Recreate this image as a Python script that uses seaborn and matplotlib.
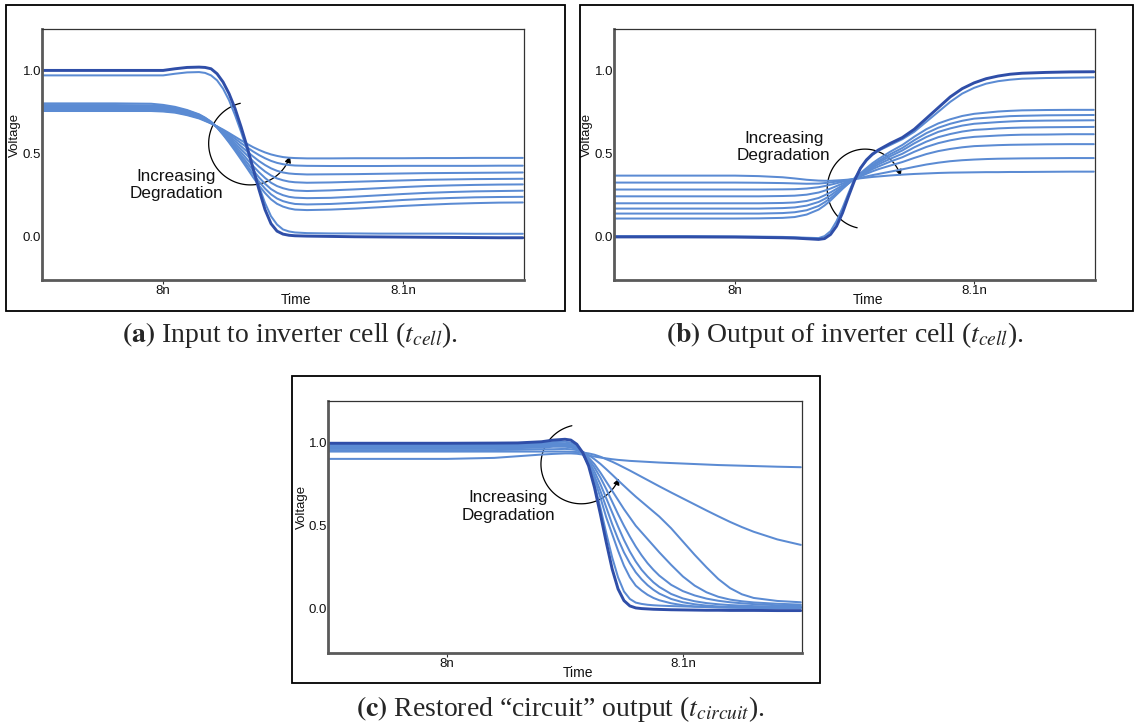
import matplotlib
matplotlib.use("Agg")
import matplotlib.pyplot as plt
import numpy as np
import pandas as pd
import seaborn as sns
from matplotlib.patches import Rectangle, FancyArrowPatch
from matplotlib.path import Path

sns.set_theme(style="white")
plt.rcParams["font.family"] = ["Liberation Sans", "DejaVu Sans"]
plt.rcParams["mathtext.fontset"] = "stix"

DARK = "#2f4ea8"
LIGHT = "#5b8bd3"

# ---------------- (a) input to inverter cell ----------------
# time offsets in ps after 8 ns
t_a = [-50, -20, -5, 0, 5, 10, 15, 17.5, 20, 22.5, 25, 27.5, 30, 32.5, 35, 37.5,
       40, 42.5, 45, 47.5, 50, 52.5, 55, 60, 70, 80, 90, 100, 110, 120, 130, 140, 150]
a_nominal = [1.0, 1.0, 1.0, 1.0, 1.01, 1.018, 1.02, 1.018, 1.01, 0.98, 0.93, 0.86, 0.77, 0.66,
             0.54, 0.41, 0.28, 0.16, 0.075, 0.03, 0.012, 0.005, 0.002, 0.0, -0.002, -0.004,
             -0.005, -0.006, -0.007, -0.008, -0.009, -0.01, -0.01]
a_near = [0.97, 0.97, 0.97, 0.97, 0.98, 0.988, 0.99, 0.985, 0.97, 0.94, 0.89, 0.82, 0.73, 0.63,
          0.52, 0.41, 0.30, 0.20, 0.12, 0.07, 0.04, 0.028, 0.022, 0.018, 0.016, 0.016, 0.015,
          0.015, 0.015, 0.015, 0.014, 0.014, 0.014]
a_d1 = [.755, .755, .755, .752, .745, .73, .71, .695, .68, .662, .643, .622, .60, .578, .557, .537,
        .52, .505, .493, .484, .477, .473, .471, .469, .469, .47, .47, .47, .471, .471, .472, .472, .472]
a_d2 = [.759, .759, .759, .756, .749, .734, .714, .698, .681, .661, .638, .614, .588, .561, .536, .511,
        .489, .470, .454, .442, .434, .429, .426, .424, .423, .423, .423, .424, .424, .424, .424, .425, .425]
a_d3 = [.764, .764, .764, .761, .754, .739, .718, .701, .683, .660, .633, .604, .574, .542, .511, .481,
        .453, .429, .409, .394, .384, .378, .375, .372, .373, .374, .376, .378, .380, .381, .382, .383, .384]
a_d4 = [.770, .770, .769, .766, .759, .744, .722, .704, .685, .659, .628, .595, .560, .524, .488, .452,
        .419, .390, .366, .348, .337, .329, .325, .322, .324, .328, .332, .336, .340, .342, .344, .345, .346]
a_d5 = [.776, .776, .775, .772, .764, .749, .726, .708, .686, .658, .624, .586, .546, .506, .464, .423,
        .385, .351, .322, .302, .289, .280, .275, .272, .276, .282, .289, .296, .302, .306, .309, .311, .312]
a_d6 = [.783, .783, .782, .778, .769, .753, .729, .710, .688, .657, .619, .578, .535, .489, .444, .398,
        .354, .316, .284, .262, .247, .237, .232, .229, .231, .238, .246, .254, .261, .266, .270, .272, .274]
a_d7 = [.791, .791, .789, .784, .774, .757, .732, .713, .689, .656, .615, .571, .524, .476, .426, .376,
        .329, .287, .252, .227, .211, .201, .194, .191, .194, .201, .209, .218, .225, .230, .234, .236, .237]
a_d8 = [.801, .801, .799, .792, .780, .761, .735, .715, .69, .655, .612, .565, .515, .463, .41, .356,
        .305, .26, .222, .195, .178, .167, .16, .157, .160, .166, .174, .182, .189, .195, .199, .202, .203]

# ---------------- (b) output of inverter cell ----------------
t_b = [-50, -20, 0, 10, 20, 25, 30, 35, 37.5, 40, 42.5, 45, 47.5, 50, 52.5, 55, 57.5, 60,
       65, 70, 75, 80, 85, 90, 95, 100, 105, 110, 115, 120, 130, 140, 150]
b_nominal = [-.005, -.005, -.006, -.008, -.01, -.012, -.016, -.02, -.015, .01, .06, .14, .24, .335,
             .41, .46, .495, .52, .56, .595, .645, .71, .775, .84, .89, .925, .95, .966, .977, .983,
             .988, .991, .992]
b_near = [0.0, 0.0, -.002, -.003, -.005, -.007, -.01, -.012, 0.0, .03, .09, .17, .26, .345, .41, .455,
          .49, .515, .55, .585, .63, .69, .75, .81, .86, .895, .92, .935, .944, .95, .954, .956, .958]
b_d1 = [.365, .365, .365, .362, .355, .348, .34, .335, .334, .334, .336, .338, .341, .345, .349, .353,
        .357, .36, .366, .371, .375, .378, .381, .383, .384, .385, .386, .386, .387, .387, .388, .389, .389]
b_d2 = [.323, .323, .323, .322, .32, .318, .316, .317, .32, .324, .329, .334, .339, .344, .352, .36,
        .368, .375, .389, .403, .418, .432, .443, .452, .458, .462, .465, .467, .468, .469, .47, .471, .471]
b_d3 = [.281, .281, .281, .281, .282, .283, .287, .295, .302, .31, .319, .328, .337, .345, .36, .376,
        .391, .404, .426, .447, .472, .495, .513, .526, .536, .543, .546, .549, .551, .552, .554, .555, .555]
b_d4 = [.240, .240, .240, .240, .242, .244, .25, .263, .274, .287, .302, .317, .331, .345, .365, .384,
        .404, .42, .45, .476, .509, .538, .561, .578, .591, .599, .603, .607, .61, .612, .613, .615, .615]
b_d5 = [.198, .198, .198, .198, .200, .203, .212, .23, .246, .264, .285, .306, .326, .345, .368, .391,
        .413, .433, .467, .497, .536, .57, .597, .616, .631, .641, .645, .65, .653, .655, .657, .658, .659]
b_d6 = [.166, .166, .166, .166, .169, .173, .184, .206, .224, .246, .272, .297, .322, .345, .371, .397,
        .422, .444, .482, .517, .56, .598, .629, .65, .667, .678, .683, .688, .692, .695, .697, .698, .699]
b_d7 = [.136, .136, .136, .136, .139, .144, .156, .182, .204, .229, .259, .289, .318, .345, .373, .401,
        .429, .453, .495, .532, .579, .621, .654, .678, .696, .709, .714, .719, .724, .726, .729, .730, .731]
b_d8 = [.106, .106, .106, .107, .11, .115, .13, .16, .185, .215, .25, .285, .318, .35, .38, .41,
        .44, .465, .51, .55, .60, .645, .68, .705, .725, .738, .745, .752, .756, .759, .761, .762, .762]

# ---------------- (c) restored circuit output ----------------
t_c = [-50, -20, 0, 20, 30, 40, 45, 50, 52.5, 55, 57.5, 60, 62.5, 65, 67.5, 70, 72.5, 75, 77.5, 80,
       82.5, 85, 87.5, 90, 95, 100, 105, 110, 115, 120, 125, 130, 140, 150]
c_nominal = [.996, .996, .996, .997, .998, 1.005, 1.015, 1.02, 1.015, .99, .94, .86, .73, .57, .40,
             .24, .12, .05, .018, .006, .002, 0.0, -.002, -.003, -.005, -.006, -.007, -.008, -.008,
             -.009, -.009, -.009, -.01, -.01]
c_near = [.99, .99, .99, .99, .99, .995, 1.003, 1.005, 1.0, .98, .935, .865, .75, .61, .455, .31, .19,
          .105, .06, .038, .03, .025, .022, .02, .017, .015, .013, .012, .011, .01, .01, .009, .008, .008]
c_d1 = [.902, .902, .902, .908, .918, .928, .932, .935, .935, .933, .928, .922, .916, .91, .905, .90,
        .896, .893, .89, .888, .886, .884, .882, .88, .877, .874, .871, .868, .865, .863, .861, .859,
        .855, .852]
c_d2 = [.946, .946, .946, .946, .946, .946, .946, .946, .945, .943, .94, .935, .927, .915, .90, .885,
        .868, .85, .832, .813, .794, .775, .756, .737, .70, .664, .628, .592, .557, .523, .492, .464,
        .418, .385]
c_d3 = [.955, .955, .955, .955, .957, .96, .96, .962, .96, .955, .945, .925, .90, .872, .84, .807,
        .773, .74, .707, .675, .645, .615, .585, .555, .485, .405, .325, .25, .18, .125, .088, .066,
        .048, .04]
c_d4 = [.965, .965, .965, .965, .967, .97, .975, .975, .972, .96, .94, .91, .87, .82, .765, .71,
        .655, .60, .55, .50, .46, .42, .38, .34, .265, .195, .14, .10, .073, .056, .046, .039, .031, .026]
c_d5 = [.97, .97, .97, .97, .972, .975, .98, .98, .975, .962, .94, .90, .85, .79, .72, .645,
        .57, .50, .435, .375, .322, .275, .235, .2, .145, .107, .081, .062, .049, .04, .034, .029,
        .022, .018]
c_d6 = [.975, .975, .975, .975, .977, .98, .985, .985, .98, .965, .935, .89, .825, .75, .665, .58,
        .495, .415, .345, .285, .235, .195, .16, .132, .09, .063, .046, .035, .028, .023, .02, .017,
        .014, .012]
c_d7 = [.98, .98, .98, .98, .982, .985, .99, .99, .985, .965, .93, .88, .80, .71, .61, .51,
        .42, .34, .275, .22, .178, .143, .115, .092, .06, .04, .028, .02, .015, .012, .011, .01,
        .009, .008]
c_d8 = [.985, .985, .985, .985, .986, .99, .995, .995, .99, .97, .93, .87, .78, .67, .55, .45,
        .35, .26, .19, .14, .11, .085, .066, .052, .034, .022, .015, .011, .009, .007, .006, .006,
        .005, .005]

x_ticks = [8.0, 8.1]
x_tick_labels = ["8n", "8.1n"]
y_ticks = [0.0, 0.5, 1.0]
y_tick_labels = ["0.0", "0.5", "1.0"]

W, H = 1136, 725


def to_frame(t_ps, traces):
    rows = []
    for name, vals in traces.items():
        for t, v in zip(t_ps, vals):
            rows.append((8.0 + t / 1000.0, v, name))
    return pd.DataFrame(rows, columns=["time", "voltage", "trace"])


def add_axes(box):
    x0, y0, x1, y1 = box
    return fig.add_axes([x0 / W, 1 - y1 / H, (x1 - x0) / W, (y1 - y0) / H])


def frame(box):
    x0, y0, x1, y1 = box
    fig.add_artist(Rectangle((x0 / W, 1 - y1 / H), (x1 - x0) / W, (y1 - y0) / H,
                             transform=fig.transFigure, fill=False, lw=1.3, ec="black"))


def degradation_arrow(ax, center, radii, theta0, theta1):
    th = np.radians(np.linspace(theta0, theta1, 90))
    verts = np.column_stack([center[0] + radii[0] * np.cos(th),
                             center[1] + radii[1] * np.sin(th)])
    arrow = FancyArrowPatch(path=Path(verts), arrowstyle="-|>", mutation_scale=9,
                            color="black", lw=0.9, transform=ax.transData)
    ax.add_patch(arrow)


def draw_panel(ax, t_ps, traces, arc, text_xy):
    df = to_frame(t_ps, traces)
    names = list(traces)
    palette = {n: (DARK if n == "nominal" else LIGHT) for n in names}
    sizes = {n: (2.1 if n == "nominal" else 1.45) for n in names}
    sns.lineplot(data=df, x="time", y="voltage", hue="trace", hue_order=names,
                 palette=palette, size="trace", size_order=names, sizes=sizes,
                 estimator=None, sort=False, legend=False, ax=ax)
    ax.set_xlim(7.9495, 8.1505)
    ax.set_ylim(-0.265, 1.25)
    ax.set_xticks(x_ticks)
    ax.set_xticklabels(x_tick_labels)
    ax.set_yticks(y_ticks)
    ax.set_yticklabels(y_tick_labels)
    ax.tick_params(axis="y", left=False, length=0, pad=0.5, labelsize=9.5, labelcolor="#111")
    ax.tick_params(axis="x", bottom=True, length=3, width=0.8, pad=0.5, labelsize=9.5,
                   direction="out", color="#333", labelcolor="#111")
    ax.set_xlabel("Time", fontsize=10, color="#111")
    ax.set_ylabel("Voltage", fontsize=9.5, color="#111")
    ax.xaxis.set_label_coords(0.528, -0.05)
    ax.yaxis.set_label_coords(-0.043, 0.578)
    for s in ("top", "right"):
        ax.spines[s].set_linewidth(0.9)
        ax.spines[s].set_color("#333333")
    for s in ("left", "bottom"):
        ax.spines[s].set_linewidth(2.0)
        ax.spines[s].set_color("#5a5a5a")
    degradation_arrow(ax, *arc)
    ax.text(text_xy[0], text_xy[1], "Increasing\nDegradation", ha="center", va="center",
            fontsize=12.3, linespacing=1.2, color="#111")


fig = plt.figure(figsize=(W / 100, H / 100), dpi=100)

frame((6, 5, 565, 311))
frame((580, 5, 1133, 311))
frame((292, 376, 820, 683))

ax_a = add_axes((42, 29, 524, 280))
draw_panel(ax_a, t_a,
           {"d1": a_d1, "d2": a_d2, "d3": a_d3, "d4": a_d4, "d5": a_d5, "d6": a_d6,
            "d7": a_d7, "d8": a_d8, "near": a_near, "nominal": a_nominal},
           ((8.0364, 0.559), (0.0174, 0.25), 104, 342), (8.0056, 0.308))

ax_b = add_axes((614, 29, 1095, 280))
draw_panel(ax_b, t_b,
           {"d1": b_d1, "d2": b_d2, "d3": b_d3, "d4": b_d4, "d5": b_d5, "d6": b_d6,
            "d7": b_d7, "d8": b_d8, "near": b_near, "nominal": b_nominal},
           ((8.0544, 0.285), (0.0158, 0.24), 258, 19), (8.0205, 0.537))

ax_c = add_axes((328, 401, 802, 653))
draw_panel(ax_c, t_c,
           {"d1": c_d1, "d2": c_d2, "d3": c_d3, "d4": c_d4, "d5": c_d5, "d6": c_d6,
            "d7": c_d7, "d8": c_d8, "near": c_near, "nominal": c_nominal},
           ((8.0569, 0.87), (0.0171, 0.238), 103.5, 339), (8.026, 0.616))

cap_kw = dict(ha="center", va="center", fontsize=20, family=["Liberation Serif", "DejaVu Serif"])
fig.text(290 / W, 1 - 335 / H, r"$\mathbf{(a)}$ Input to inverter cell ($t_{cell}$).", **cap_kw)
fig.text(845 / W, 1 - 335 / H, r"$\mathbf{(b)}$ Output of inverter cell ($t_{cell}$).", **cap_kw)
fig.text(560 / W, 1 - 709 / H, r"$\mathbf{(c)}$ Restored “circuit” output ($t_{circuit}$).", **cap_kw)

fig.savefig("out.png", dpi=100)
